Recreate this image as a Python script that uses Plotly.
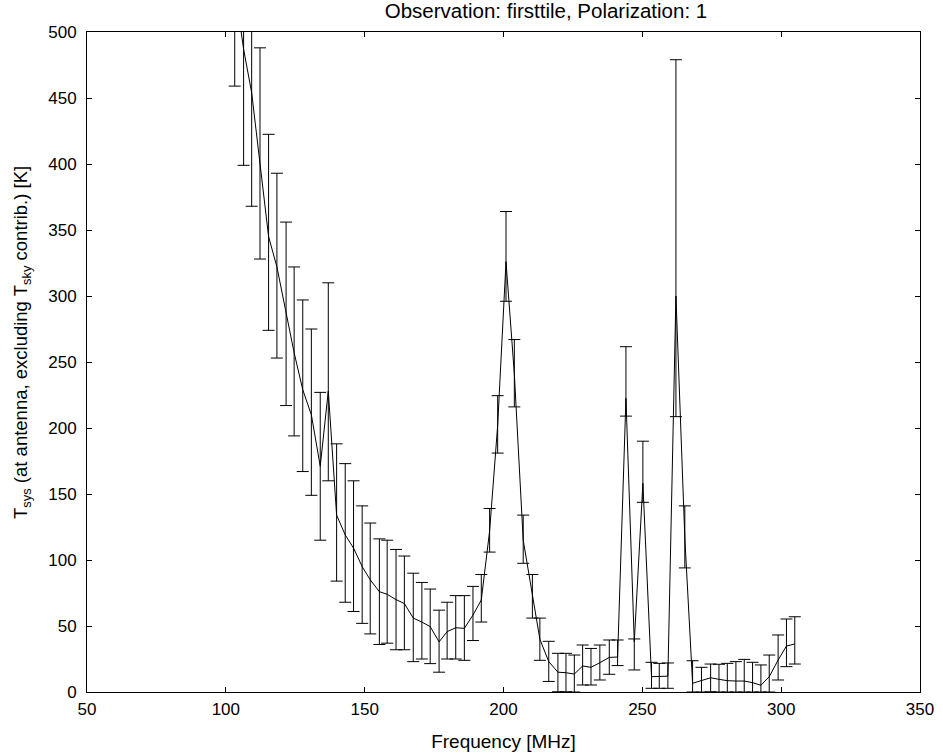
import plotly.graph_objects as go

# Frequency channels [MHz]
freq = [103.2, 106.4, 109.3, 112.3, 115.4, 118.4, 121.7, 124.6, 127.7, 130.8,
        134.0, 136.9, 139.9, 143.0, 146.0, 149.1, 152.0, 155.3, 158.1, 161.3,
        164.3, 167.5, 170.6, 173.6, 176.8, 179.7, 182.8, 185.9, 189.0, 192.0,
        195.0, 197.9, 200.9, 203.9, 207.1, 210.4, 213.1, 216.3, 219.6, 222.5,
        225.5, 228.5, 231.5, 234.7, 238.1, 241.1, 244.1, 247.1, 250.2, 253.3,
        256.1, 259.2, 262.1, 265.3, 268.1, 271.3, 274.6, 277.6, 280.6, 283.7,
        286.7, 289.7, 292.7, 295.7, 298.9, 301.9, 304.9]

# System temperature [K]
tsys = [535, 487, 454, 402, 345, 322, 287, 257, 229, 210,
        171, 228, 134, 119, 109, 95, 85, 76, 74, 70,
        67, 56, 53, 49.5, 38, 45.7, 48.7, 48.2, 58.3, 69.7,
        122, 202, 326, 241, 115, 72, 40, 23, 15, 14.6,
        13.6, 19.7, 18.7, 22.2, 26.2, 26.5, 222.5, 38, 158, 11.6,
        12, 12, 300, 117, 6.6, 8.6, 10.8, 9.6, 8.6, 8.3,
        8.3, 7.1, 5.1, 11.6, 24.2, 34.8, 36.4]

# Upper ends of error bars [K]
tsys_hi = [611, 575, 540, 488, 422.5, 393, 356, 322, 297, 275,
           227, 310, 188, 173, 160, 141, 128, 116, 115, 108,
           103, 90, 83, 78, 62, 68, 73, 73, 80, 89,
           139, 224.5, 364, 267, 134, 89, 56, 38.4, 29.3, 29.3,
           28, 35.6, 33, 35.6, 39.4, 39.4, 261.6, 40.2, 190, 22.5,
           21.7, 22, 479, 141, 23.7, 18.7, 21.2, 21, 21.7, 23,
           24.7, 22.5, 20.5, 28, 43.2, 55.3, 57]

# Lower ends of error bars [K]
tsys_lo = [459, 399, 368, 328, 274, 253, 217, 194, 167, 149,
           115, 160, 84, 68, 61, 52, 44, 36, 37, 32,
           32, 23, 25, 21.5, 15, 25, 25, 24, 39, 53,
           106, 181, 296, 216, 97.5, 56, 24, 8, 0.2, 0.2,
           0, 5.3, 5.3, 9.1, 13.4, 20, 209, 16.7, 143.7, 2.8,
           2.8, 2.8, 208.6, 94, 0, 0, 0.2, 0, 0, 0,
           0, 0, 0, 0, 9.1, 19.2, 21.2]

err_plus = [h - v for h, v in zip(tsys_hi, tsys)]
err_minus = [v - l for v, l in zip(tsys, tsys_lo)]

x_ticks = [50, 100, 150, 200, 250, 300, 350]
y_ticks = [0, 50, 100, 150, 200, 250, 300, 350, 400, 450, 500]

fig = go.Figure()
fig.add_trace(go.Scatter(
    x=freq, y=tsys, mode="lines",
    line=dict(color="black", width=1),
    error_y=dict(type="data", symmetric=False, array=err_plus,
                 arrayminus=err_minus, color="black", thickness=1, width=6),
    showlegend=False,
))

font = "Liberation Sans, Arial, Helvetica, sans-serif"
axis_common = dict(
    showgrid=False, zeroline=False, showline=True, linecolor="black",
    linewidth=1, mirror="ticks", ticks="inside", ticklen=5, automargin=False,
    tickcolor="black", tickfont=dict(family=font, size=17, color="black"),
)

fig.update_layout(
    width=943, height=755,
    paper_bgcolor="white", plot_bgcolor="white",
    margin=dict(l=87, r=23, t=32, b=63),
    font=dict(family=font, size=17, color="black"),
    title=dict(text="Observation: firsttile, Polarization: 1",
               x=546 / 943, xanchor="center", xref="container",
               y=1 - 4 / 755, yanchor="top", yref="container",
               font=dict(family=font, size=20.5, color="black")),
    xaxis=dict(range=[50, 350], tickvals=x_ticks, ticklabelstandoff=2,
               title=dict(text="Frequency [MHz]", standoff=16,
                          font=dict(family=font, size=19)),
               **axis_common),
    yaxis=dict(range=[0, 500], tickvals=y_ticks, ticklabelstandoff=6,
               **axis_common),
    annotations=[dict(
        text="T<sub>sys</sub> (at antenna, excluding T<sub>sky</sub> contrib.) [K]",
        textangle=-90, xref="paper", yref="paper",
        x=(22 - 87) / 833, y=(692 - 343) / 660,
        xanchor="center", yanchor="middle", showarrow=False,
        font=dict(family=font, size=18.5, color="black"),
    )],
)

fig.write_html("out.html", config={"displayModeBar": False},
               post_script="document.body.style.margin='0';")
